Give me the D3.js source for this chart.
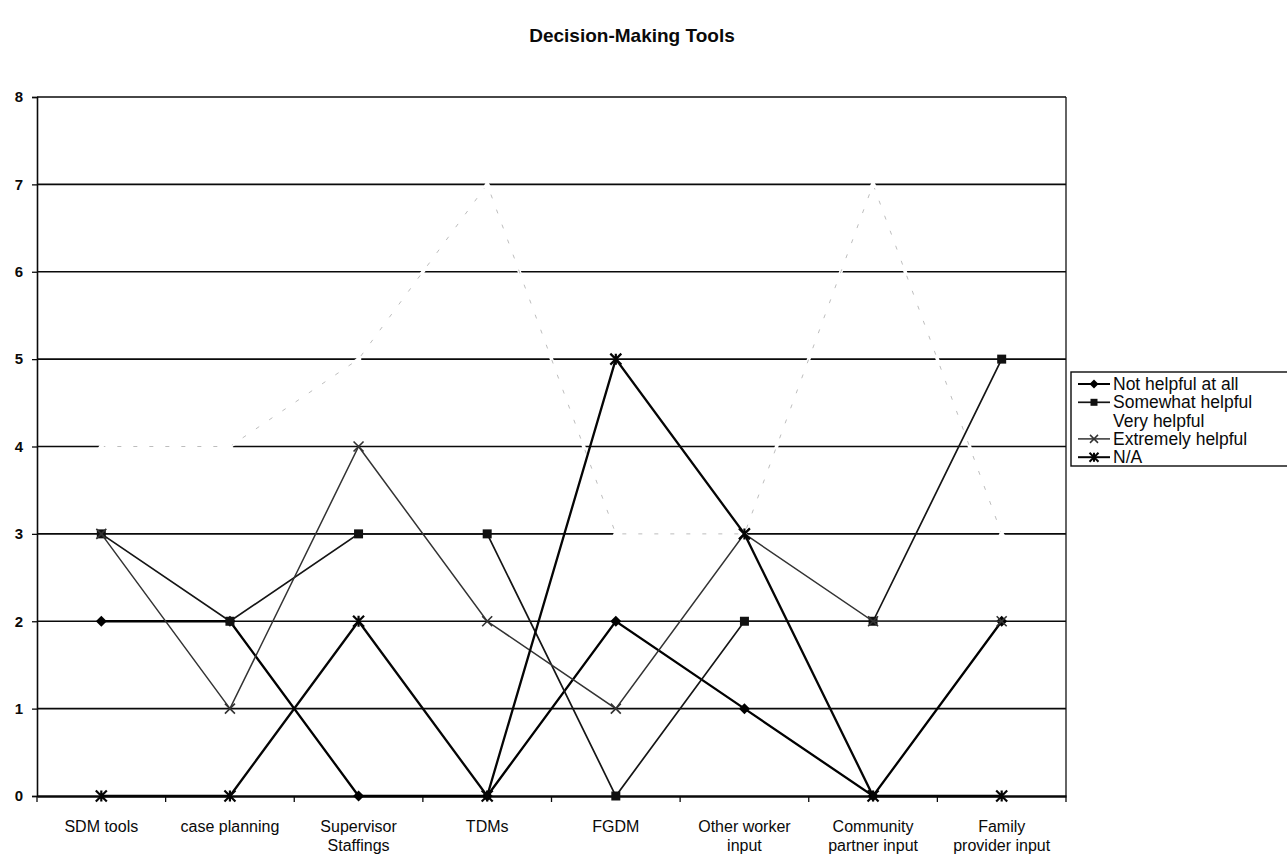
<!DOCTYPE html>
<html>
<head>
<meta charset="utf-8">
<script src="https://cdn.jsdelivr.net/npm/d3@7"></script>
<style>
  html, body { margin: 0; padding: 0; background: #fff; }
  svg { display: block; font-family: "Liberation Sans", Arial, sans-serif; }
</style>
</head>
<body>
<svg id="chart" width="1287" height="856"></svg>
<script>
// Survey responses per decision-making tool
const categories = ["SDM tools", "case planning", "Supervisor Staffings", "TDMs", "FGDM",
                    "Other worker input", "Community partner input", "Family provider input"];
const categoryLines = [["SDM tools"], ["case planning"], ["Supervisor", "Staffings"], ["TDMs"], ["FGDM"],
                       ["Other worker", "input"], ["Community", "partner input"], ["Family", "provider input"]];
const seriesNames = ["Not helpful at all", "Somewhat helpful", "Very helpful", "Extremely helpful", "N/A"];
const notHelpful    = [2, 2, 0, 0, 2, 1, 0, 2];
const somewhat      = [3, 2, 3, 3, 0, 2, 2, 5];
const veryHelpful   = [4, 4, 5, 7, 3, 3, 7, 3];
const extremely     = [3, 1, 4, 2, 1, 3, 2, 2];
const notApplicable = [0, 0, 2, 0, 5, 3, 0, 0];
const yTicks = [0, 1, 2, 3, 4, 5, 6, 7, 8];
const chartTitle = "Decision-Making Tools";

const svg = d3.select("#chart");
const plot = { left: 37, right: 1066, top: 97, bottom: 796 };

const x = d3.scaleBand().domain(categories).range([plot.left, plot.right]);
const y = d3.scaleLinear().domain([0, 8]).range([plot.bottom, plot.top]);
const cx = c => x(c) + x.bandwidth() / 2;

// title
svg.append("text")
  .attr("x", 632).attr("y", 42)
  .attr("text-anchor", "middle")
  .attr("font-size", 19).attr("font-weight", "bold")
  .attr("fill", "#0a0a0a")
  .text(chartTitle);

// horizontal gridlines
svg.append("g").selectAll("line")
  .data(yTicks.filter(t => t > 0))
  .join("line")
  .attr("x1", plot.left).attr("x2", plot.right)
  .attr("y1", d => y(d)).attr("y2", d => y(d))
  .attr("stroke", "#0a0a0a").attr("stroke-width", 1.6);

// right border of plot area
svg.append("line")
  .attr("x1", plot.right).attr("x2", plot.right)
  .attr("y1", y(8)).attr("y2", y(0))
  .attr("stroke", "#111").attr("stroke-width", 1.3);

// y axis
const yAxis = svg.append("g")
  .attr("transform", `translate(${plot.left},0)`)
  .call(d3.axisLeft(y).tickValues(yTicks).tickSize(5).tickPadding(9).tickFormat(d3.format("d")));
yAxis.select(".domain").attr("stroke", "#0a0a0a").attr("stroke-width", 1.6);
yAxis.selectAll(".tick line").attr("stroke", "#0a0a0a").attr("stroke-width", 1.3);
yAxis.selectAll(".tick text")
  .attr("font-size", 15).attr("font-weight", "bold")
  .attr("font-family", "Liberation Sans, Arial, sans-serif")
  .attr("fill", "#0a0a0a");

// x axis: ticks between categories
const xAxis = svg.append("g")
  .attr("transform", `translate(0,${plot.bottom})`)
  .call(d3.axisBottom(x).tickSize(0).tickPadding(0).tickFormat(""));
xAxis.select(".domain").attr("stroke", "#0a0a0a").attr("stroke-width", 2.4);
xAxis.selectAll(".tick").remove();
const sepPos = [plot.left].concat(categories.slice(1).map(c => x(c)), [plot.right]);
xAxis.selectAll(".sep")
  .data(sepPos)
  .join("line")
  .attr("class", "sep")
  .attr("x1", d => d).attr("x2", d => d)
  .attr("y1", 0).attr("y2", 6)
  .attr("stroke", "#0a0a0a").attr("stroke-width", 1.3);

// category labels, wrapped onto two lines where needed
const labels = svg.append("g");
categories.forEach((c, i) => {
  const t = labels.append("text")
    .attr("x", cx(c)).attr("y", 832)
    .attr("text-anchor", "middle")
    .attr("font-size", 16).attr("fill", "#0a0a0a");
  categoryLines[i].forEach((line, j) => {
    t.append("tspan").attr("x", cx(c)).attr("dy", j === 0 ? 0 : 19).text(line);
  });
});

// marker shapes
function markerPath(kind, s) {
  const h = s / 2;
  switch (kind) {
    case "diamond": return `M0,${-h}L${h},0L0,${h}L${-h},0Z`;
    case "square": return `M${-h},${-h}H${h}V${h}H${-h}Z`;
    case "triangle": return `M0,${-h}L${h},${h * 0.8}L${-h},${h * 0.8}Z`;
    case "x": return `M${-h},${-h}L${h},${h}M${-h},${h}L${h},${-h}`;
    case "asterisk": return `M${-h},${-h}L${h},${h}M${-h},${h}L${h},${-h}M0,${-h}V${h}`;
  }
}

const series = [
  { name: seriesNames[0], values: notHelpful, stroke: "#000", width: 2.3, marker: "diamond", size: 11, fill: "#000" },
  { name: seriesNames[1], values: somewhat, stroke: "#151515", width: 1.7, marker: "square", size: 9, fill: "#111" },
  { name: seriesNames[2], values: veryHelpful, stroke: "#fff", width: 3.5, marker: "triangle", size: 9, fill: "#fff", dash: "#b5b5b5" },
  { name: seriesNames[3], values: extremely, stroke: "#333", width: 1.5, marker: "x", size: 10, fill: "none" },
  { name: seriesNames[4], values: notApplicable, stroke: "#050505", width: 2.3, marker: "asterisk", size: 11, fill: "none" }
];

const line = d3.line().x(d => cx(d.cat)).y(d => y(d.v));

// the near-white series goes first so it only blanks out gridlines
const order = [2, 0, 1, 3, 4];
order.forEach(k => {
  const s = series[k];
  const pts = s.values.map((v, i) => ({ cat: categories[i], v }));
  const g = svg.append("g");
  g.append("path").datum(pts)
    .attr("d", line)
    .attr("fill", "none")
    .attr("stroke", s.stroke).attr("stroke-width", s.width)
    .attr("stroke-linejoin", "miter");
  if (s.dash) {
    g.append("path").datum(pts)
      .attr("d", line)
      .attr("fill", "none")
      .attr("stroke", s.dash).attr("stroke-width", 0.9)
      .attr("stroke-dasharray", "4,12");
  }
  g.selectAll(".m").data(pts).join("path")
    .attr("class", "m")
    .attr("transform", d => `translate(${cx(d.cat)},${y(d.v)})`)
    .attr("d", markerPath(s.marker, s.size))
    .attr("fill", s.fill)
    .attr("stroke", s.marker === "x" || s.marker === "asterisk" ? s.stroke : s.fill)
    .attr("stroke-width", s.marker === "asterisk" ? 2.2 : (s.marker === "x" ? 1.6 : 0));
});

// legend
const legend = svg.append("g").attr("transform", "translate(1071,372)");
legend.append("rect")
  .attr("x", 0).attr("y", 0).attr("width", 230).attr("height", 94)
  .attr("fill", "#fff").attr("stroke", "#0a0a0a").attr("stroke-width", 1.4);
series.forEach((s, i) => {
  const ly = 12 + i * 18.3;
  const row = legend.append("g").attr("transform", `translate(0,${ly})`);
  row.append("line").attr("x1", 7).attr("x2", 39).attr("y1", 0).attr("y2", 0)
    .attr("stroke", s.stroke).attr("stroke-width", s.width > 2 ? 2 : s.width);
  row.append("path").attr("transform", "translate(23,0)")
    .attr("d", markerPath(s.marker, s.size - 2))
    .attr("fill", s.fill)
    .attr("stroke", s.marker === "x" || s.marker === "asterisk" ? s.stroke : s.fill)
    .attr("stroke-width", s.marker === "asterisk" ? 2 : (s.marker === "x" ? 1.5 : 0));
  row.append("text").attr("x", 42).attr("y", 6)
    .attr("font-size", 17.5).attr("fill", "#0a0a0a")
    .text(s.name);
});
</script>
</body>
</html>
